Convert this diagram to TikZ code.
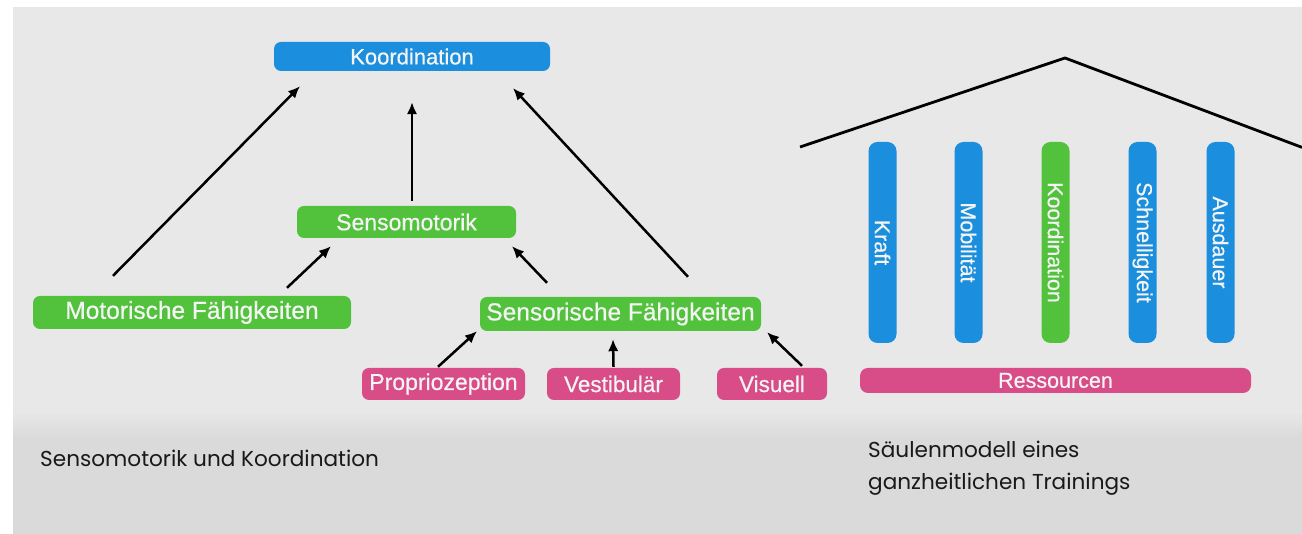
\documentclass[tikz,border=0pt]{standalone}
\usepackage{fontspec}
\setmainfont{Liberation Sans}
\newfontfamily\boxfont{Liberation Sans}[FakeBold=0.6]
\newfontfamily\capfont{Poppins}
\usetikzlibrary{arrows.meta}
\definecolor{cblue}{HTML}{1B8FDE}
\definecolor{cgreen}{HTML}{52C23D}
\definecolor{cpink}{HTML}{D84C88}
\definecolor{bgdark}{HTML}{DADADA}
\definecolor{bglight}{HTML}{E8E8E8}
\definecolor{boxtext}{HTML}{F4F4F4}
\newcommand\fsz[1]{\boxfont\fontsize{#1}{#1}\selectfont}
\begin{document}
\begin{tikzpicture}[x=1pt,y=1pt,
  box/.style={rounded corners=7pt, inner sep=0pt, text=boxtext, anchor=center},
  bluebox/.style={box, fill=cblue},
  greenbox/.style={box, fill=cgreen},
  pinkbox/.style={box, fill=cpink},
  arr/.style={-{Latex[length=12pt,width=10.5pt]}, line width=2.5pt, black},
  pillar/.style={rounded corners=9pt, inner sep=0pt, minimum width=201pt, minimum height=28pt, rotate=-90, text=boxtext, font=\fsz{21.5}},
  caption/.style={font=\capfont\fontsize{21.6}{32}\selectfont, anchor=base west, align=left, inner sep=0pt, text=black!90}
]
\useasboundingbox (0,0) rectangle (1302,534);
% background
\fill[white] (0,0) rectangle (1302,534);
\fill[bgdark] (13,0) rectangle (1302,527);
\fill[bglight] (13,527) rectangle (1302,122);
\shade[top color=bglight, bottom color=bgdark] (13,122) rectangle (1302,96);

% left diagram
\node[bluebox, minimum width=276pt, minimum height=29pt, font=\fsz{22}] (koord) at (412,477.5) {Koordination};
\node[greenbox, minimum width=219pt, minimum height=32pt, font=\fsz{23}] (senso) at (406.5,312) {Sensomotorik};
\node[greenbox, minimum width=318pt, minimum height=33pt, font=\fsz{24.5}] (mot) at (192,221.5) {Motorische Fähigkeiten};
\node[greenbox, minimum width=281pt, minimum height=34pt, font=\fsz{24.5}] (sens) at (620.5,220) {Sensorische Fähigkeiten};
\node[pinkbox, minimum width=163pt, minimum height=32pt, font=\fsz{23}] (prop) at (443.5,150) {Propriozeption};
\node[pinkbox, minimum width=133pt, minimum height=32pt, font=\fsz{22.5}] (vest) at (613.5,150) {Vestibulär};
\node[pinkbox, minimum width=110pt, minimum height=32pt, font=\fsz{22.5}] (vis) at (772,150) {Visuell};

\draw[arr] ([shift={(-79,20)}]mot.north) -- ([shift={(-112,-15)}]koord.south);
\draw[arr] ([shift={(5.5,5)}]senso.north) -- ([shift={(0,-31)}]koord.south);
\draw[arr] ([shift={(67.5,20)}]sens.north) -- ([shift={(101,-17)}]koord.south);
\draw[arr] ([shift={(95,8)}]mot.north) -- ([shift={(-75.5,-8)}]senso.south);
\draw[arr] ([shift={(-73.5,14)}]sens.north) -- ([shift={(105.5,-8)}]senso.south);
\draw[arr] ([shift={(-5.5,1)}]prop.north) -- ([shift={(-143.5,0)}]sens.south);
\draw[arr] ([shift={(0,1)}]vest.north) -- ([shift={(-7.5,-8)}]sens.south);
\draw[arr] ([shift={(30,2)}]vis.north) -- ([shift={(146.5,-1)}]sens.south);

\node[caption] (cap1) at (40,67) {Sensomotorik und Koordination};

% right diagram
\coordinate (roofL) at (800,387);
\coordinate (roofP) at (1065,476);
\coordinate (roofR) at (1302,386.6);
\draw[line width=2.8pt, line join=miter] (roofL) -- (roofP) -- (roofR);

\node[pillar, fill=cblue] (p1) at (882.5,291.5) {Kraft};
\node[pillar, fill=cblue] (p2) at (968.5,291.5) {Mobilität};
\node[pillar, fill=cgreen] (p3) at (1055.5,291.5) {Koordination};
\node[pillar, fill=cblue] (p4) at (1142.5,291.5) {Schnelligkeit};
\node[pillar, fill=cblue] (p5) at (1220.5,291.5) {Ausdauer};
\node[pinkbox, rounded corners=8pt, minimum width=391pt, minimum height=25pt, font=\fsz{21.5}] (ress) at (1055.5,153.5) {Ressourcen};

\node[caption] (cap2) at (868,44) {Säulenmodell eines\\ganzheitlichen Trainings};
\end{tikzpicture}
\end{document}
